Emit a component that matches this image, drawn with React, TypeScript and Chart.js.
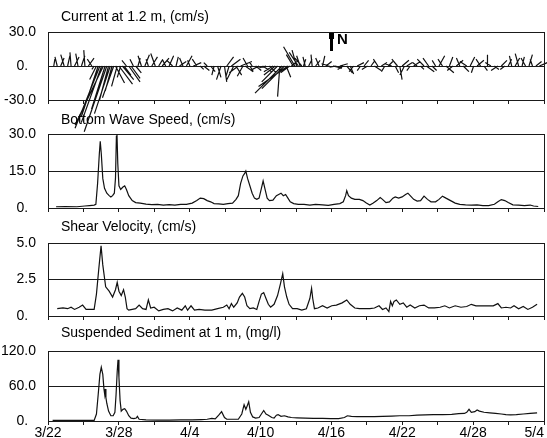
import React, { useEffect, useRef } from "react";
import { Chart, registerables } from "chart.js";

Chart.register(...registerables);

const FONT = '"Liberation Sans", Arial, Helvetica, sans-serif';

// ---------- X axis: days since 3/22 ----------
const X_DAYS = 43;
const X_MINOR_INTERVALS = 14;
const X_TICK_LABELS = ["3/22", "3/28", "4/4", "4/10", "4/16", "4/22", "4/28", "5/4"];

// ---------- Panel 1: current sticks (cm/s) ----------
const CURRENT_TITLE = "Current at 1.2 m, (cm/s)";
const CURRENT_Y_TICKS = [-30, 0, 30];
const CURRENT_Y_LABELS = ["-30.0", "0.", "30.0"];
const STICK_DAY = [
  0.5, 0.8, 1.1, 1.4, 1.7, 2.0, 2.3, 2.6, 2.9, 3.2, 3.5, 3.8,
  4.0, 4.2, 4.35, 4.5, 4.65, 4.8, 4.95, 5.1, 5.25, 5.4, 5.55, 5.7, 5.85, 6.0, 6.15, 6.3, 6.45, 6.6, 6.8, 7.0, 7.2, 7.4, 7.6,
  7.8, 8.1, 8.4, 8.7, 9.0, 9.3, 9.6, 9.9, 10.2, 10.5, 10.8, 11.1, 11.4, 11.7, 12.0, 12.3, 12.6, 12.9, 13.2,
  13.5, 13.8, 14.1, 14.4, 14.7, 15.0, 15.3, 15.5, 15.7, 15.9, 16.1, 16.3, 16.5, 16.7, 16.9, 17.1, 17.3, 17.5, 17.7,
  18.0, 18.3, 18.6, 18.9, 19.2, 19.5, 19.7, 19.9, 20.1, 20.3, 20.5, 20.65, 20.8, 20.95, 21.1,
  21.25, 21.4, 21.55, 21.7, 21.85, 22.0, 22.15,
  22.3, 22.6, 22.9, 23.2, 23.5, 23.8, 24.1, 24.4, 24.7, 25.0, 25.3, 25.6, 25.9, 26.2, 26.5, 26.8, 27.1, 27.4, 27.7, 28.0,
  28.3, 28.6, 28.9, 29.2, 29.5, 29.8, 30.1, 30.3, 30.5, 30.7, 30.9, 31.1, 31.4, 31.7, 32.0, 32.3, 32.6, 32.8, 33.0, 33.3,
  33.6, 33.9, 34.2, 34.5, 34.8, 35.1, 35.4, 35.7, 36.0, 36.3, 36.6, 36.9, 37.2, 37.5, 37.8, 38.1, 38.4, 38.7, 39.0, 39.3,
  39.6, 39.9, 40.2, 40.5, 40.8, 41.1, 41.4, 41.7, 42.0, 42.3, 42.6,
];
const STICK_U = [
  1, -2, 3, -3, 2, -1, 4, -2, 3, -1, 5, -4,
  -2, -6, -15, -22, -18, -25, -12, -20, -8, -14, -6, -10, 8, -5, 12, -3, 10, 6, -4, 10, 8, -3, 5,
  2, -3, 4, -2, 5, -4, 3, 6, -3, 4, -5, 2, 6, -3, 5, -2, 7, -4, 3,
  5, -3, 4, -2, 3, -4, 2, 6, -3, 8, -6, 5, -8, 10, -5, 7, -4, 3, -2,
  5, -6, 8, -7, 6, -8, -10, -14, -2, -24, -20, 4, -26, -8, 5,
  -6, -10, -4, -8, -3, -6, 2,
  -2, 3, -1, 4, -3, 2, 5, -7, 8, -6, 7, -5, 5, 3, -4, 6, -3, 4, -5, 3,
  6, -4, 5, -3, 4, -6, 3, -5, 2, 6, -4, 5, -3, 6, -4, 3, -6, 7, -5, 4,
  -3, 5, -4, 7, 3, -5, 6, -3, 5, -6, 4, -2, 6, -4, 3, 0, -5, 4, -6, 5,
  -4, 3, -2, 4, -3, 2, -4, 3, -2, 5, 7,
];
const STICK_V = [
  6, 8, 7, 10, 9, 12, 8, 11, 9, 14, 7, 6,
  -3, -12, -45, -55, -50, -52, -38, -58, -30, -42, -22, -28, -15, -18, -16, -10, -12, -8, 5, -14, -11, 6, -6,
  7, 9, 10, 6, 8, 11, 5, 7, 6, 9, 5, 8, 4, 7, 9, 5, 3, 6, -3,
  -4, 3, -5, -8, -10, -12, -14, 8, -10, 6, -12, -8, -6, 4, -9, -5, 7, -5, 3,
  -4, -3, -5, -2, -6, -5, -8, -14, -27, -24, -20, -10, -18, -6, 4,
  10, 17, 14, 12, 9, 7, 6,
  8, 6, 10, 5, 7, 9, 4, 2, -2, -1, 2, -3, -6, -7, -5, 3, -4, 5, -3, 4,
  -4, 6, 3, -5, 4, 2, -6, 6, -12, 5, -8, 3, -4, 4, 3, -3, 6, -5, 7, -4,
  5, 9, 6, -6, 8, -4, 5, 7, -5, 4, 8, -6, 5, 6, -4, 10, 3, -3, -4, 5,
  -3, 6, 9, 7, 11, 8, 7, 10, 6, 4, 3,
];
// days of x-offset per cm/s of east velocity, so sticks keep true direction
const STICK_DAYS_PER_CMS = 0.098;

// ---------- Panel 2: bottom wave speed (cm/s) ----------
const WAVE_TITLE = "Bottom Wave Speed, (cm/s)";
const WAVE_Y_TICKS = [0, 15, 30];
const WAVE_Y_LABELS = ["0.", "15.0", "30.0"];
const WAVE_DAY = [
  0.7, 1.5, 2.5, 3.2, 3.6, 4.0, 4.15, 4.3, 4.45, 4.53, 4.62, 4.75, 4.9, 5.1, 5.3, 5.45, 5.6, 5.75, 5.85, 5.93,
  5.98, 6.05, 6.15, 6.3, 6.5, 6.65, 6.8, 7.0, 7.3, 7.6, 8.0, 8.5, 9.0, 9.5, 10.0, 10.5, 11.0, 11.5, 12.0, 12.5,
  12.9, 13.2, 13.5, 13.8, 14.1, 14.4, 14.8, 15.2, 15.6, 16.0, 16.3, 16.5, 16.7, 16.9, 17.05, 17.15, 17.3, 17.5, 17.7, 17.9,
  18.1, 18.3, 18.5, 18.65, 18.8, 19.0, 19.2, 19.5, 19.8, 20.0, 20.2, 20.4, 20.6, 20.8, 21.0, 21.3, 21.7, 22.2, 22.7, 23.2,
  23.8, 24.3, 24.8, 25.3, 25.6, 25.8, 25.9, 26.05, 26.3, 26.6, 27.0, 27.3, 27.6, 27.9, 28.2, 28.5, 28.8, 29.0, 29.3, 29.6,
  29.9, 30.1, 30.4, 30.7, 31.0, 31.2, 31.4, 31.7, 32.0, 32.3, 32.6, 32.9, 33.2, 33.6, 33.9, 34.2, 34.5, 34.9, 35.3, 35.7,
  36.2, 36.7, 37.2, 37.7, 38.2, 38.7, 39.0, 39.3, 39.6, 39.9, 40.3, 40.8, 41.3, 41.8, 42.1, 42.5,
];
const WAVE_VAL = [
  0.5, 0.6, 0.5, 0.8, 1.0, 1.2, 1.5, 10, 22, 27, 22, 12, 8, 6, 5, 4.5, 5, 6, 12, 29,
  30, 18, 9, 7.5, 8.5, 9, 7.5, 5, 3, 2.2, 2, 1.6, 1.4, 1.5, 1.2, 1.4, 1.2, 1.5, 1.5, 2,
  3, 4, 3.8, 3, 2.5, 1.8, 1.7, 1.5, 1.8, 2, 3.5, 5, 10, 13, 14, 15, 12, 9, 6, 4,
  3.5, 4, 8, 11, 8, 4, 3, 3.2, 5, 5.5, 6, 5, 5.5, 4, 2.5, 1.8, 1.5, 1.5, 1.2, 1.5,
  1.3, 1.1, 1.5, 1.8, 2.5, 5, 7, 5, 4, 3.5, 3.5, 3, 2, 1.2, 2, 3, 4.2, 3.5, 2.2, 2.5,
  4, 4.5, 4, 4.5, 5.5, 6, 5, 3.5, 2.8, 3, 4.8, 3.5, 2.5, 2.5, 3.5, 4.8, 4, 3, 2, 1.5,
  1.3, 1.2, 1.3, 1.0, 1.0, 1.5, 2.5, 3.4, 3.0, 2.2, 1.3, 1.2, 1.0, 1.2, 0.8, 0.6,
];

// ---------- Panel 3: shear velocity (cm/s) ----------
const SHEAR_TITLE = "Shear Velocity, (cm/s)";
const SHEAR_Y_TICKS = [0, 2.5, 5];
const SHEAR_Y_LABELS = ["0.", "2.5", "5.0"];
const SHEAR_DAY = [
  0.8, 1.3, 1.7, 2.0, 2.3, 2.7, 3.0, 3.3, 3.7, 4.0, 4.2, 4.4, 4.6, 4.75, 5.0, 5.3, 5.6, 5.85, 6.0, 6.15,
  6.35, 6.55, 6.7, 6.85, 7.0, 7.3, 7.6, 7.9, 8.2, 8.5, 8.7, 8.9, 9.2, 9.6, 10.0, 10.4, 10.8, 11.2, 11.6, 11.9,
  12.1, 12.4, 12.7, 13.1, 13.6, 14.2, 14.7, 15.2, 15.5, 15.7, 15.9, 16.1, 16.4, 16.6, 16.85, 17.05, 17.25, 17.5, 17.8, 18.1,
  18.3, 18.5, 18.7, 18.9, 19.1, 19.3, 19.6, 19.9, 20.15, 20.35, 20.5, 20.7, 20.9, 21.2, 21.6, 22.0, 22.4, 22.7, 22.85, 22.95,
  23.1, 23.4, 23.8, 24.2, 24.6, 25.0, 25.5, 25.9, 26.2, 26.6, 27.0, 27.5, 27.9, 28.3, 28.7, 29.0, 29.3, 29.55, 29.7, 29.85,
  30.0, 30.2, 30.5, 30.8, 31.1, 31.4, 31.8, 32.2, 32.6, 33.0, 33.5, 34.0, 34.4, 34.8, 35.3, 35.8, 36.3, 36.7, 37.1, 37.6,
  38.1, 38.6, 39.0, 39.3, 39.7, 40.1, 40.4, 40.8, 41.2, 41.6, 42.0, 42.4,
];
const SHEAR_VAL = [
  0.5, 0.55, 0.5, 0.6, 0.45, 0.6, 0.75, 0.45, 0.45, 0.45, 1.5, 3.2, 4.8, 3.5, 2.0, 1.7, 1.3, 1.8, 2.3, 1.7,
  1.4, 1.8, 1.3, 0.5, 0.4, 0.45, 0.5, 0.75, 0.5, 0.45, 1.1, 0.55, 0.6, 0.35, 0.45, 0.5, 0.35, 0.55, 0.4, 0.7,
  0.4, 0.7, 0.4, 0.45, 0.4, 0.4, 0.5, 0.6, 0.75, 0.5, 0.85, 0.6, 0.9, 1.3, 1.55, 1.3, 0.7, 0.5, 0.55, 0.45,
  1.0, 1.5, 1.6, 1.2, 0.8, 0.6, 0.8, 1.4, 2.2, 2.9, 2.0, 1.3, 0.8, 0.5, 0.5, 0.4, 0.5, 1.2, 1.9, 1.2,
  0.5, 0.55, 0.7, 0.55, 0.7, 0.75, 0.9, 1.1, 0.8, 0.55, 0.5, 0.5, 0.5, 0.55, 0.7, 0.45, 0.55, 0.3, 1.0, 0.7,
  1.0, 1.1, 0.8, 0.9, 0.6, 0.75, 0.55, 0.7, 0.75, 0.55, 0.55, 0.6, 0.7, 0.55, 0.7, 0.6, 0.65, 0.8, 0.7, 0.7,
  0.7, 0.7, 0.85, 0.55, 0.6, 0.55, 0.7, 0.5, 0.65, 0.45, 0.6, 0.8,
];

// ---------- Panel 4: suspended sediment (mg/l) ----------
const SED_TITLE = "Suspended Sediment at 1 m, (mg/l)";
const SED_Y_TICKS = [0, 60, 120];
const SED_Y_LABELS = ["0.", "60.0", "120.0"];
const SED_DAY = [
  0.4, 1.5, 2.5, 3.5, 4.0, 4.2, 4.35, 4.5, 4.62, 4.75, 4.85, 4.92, 4.97, 5.02, 5.1, 5.25, 5.45, 5.65, 5.8, 5.9,
  6.0, 6.07, 6.15, 6.25, 6.35, 6.5, 6.65, 6.8, 7.0, 7.2, 7.45, 7.65, 7.75, 7.9, 8.5, 9.5, 10.5, 11.5, 12.5, 13.3,
  13.8, 14.2, 14.5, 14.8, 15.05, 15.3, 15.5, 16.0, 16.5, 16.8, 17.0, 17.15, 17.25, 17.4, 17.55, 17.75, 18.0, 18.3, 18.5, 18.7,
  18.9, 19.1, 19.4, 19.6, 19.8, 19.95, 20.2, 20.5, 20.8, 21.1, 21.6, 22.3, 23.0, 23.8, 24.5, 25.2, 25.7, 25.95, 26.3, 26.8,
  27.5, 28.3, 29.0, 29.8, 30.5, 31.3, 32.0, 32.7, 33.4, 34.2, 35.0, 35.6, 36.1, 36.3, 36.5, 36.7, 37.0, 37.2, 37.4, 37.8,
  38.3, 38.8, 39.3, 39.7, 40.1, 40.6, 41.2, 41.8, 42.4,
];
const SED_VAL = [
  1, 1, 1, 1, 1, 12, 45, 80, 92, 80, 55, 45, 55, 40, 30, 17, 9, 9, 15, 45,
  85, 105, 75, 35, 17, 20, 21, 17, 9, 5, 4, 5, 8, 3, 2, 1.5, 1.5, 2, 2, 2.5,
  3, 4.5, 3.5, 10, 16, 6, 3, 3, 3, 12, 28, 20, 25, 33, 15, 7, 5, 6, 12, 18,
  12, 10, 6, 5, 10, 11, 8, 9, 7, 6, 5.5, 5, 4.5, 4.5, 4, 4, 6, 9, 8, 7.5,
  7.5, 7.5, 8, 8.5, 9, 9, 10, 10.5, 11, 11, 11.5, 12.5, 13, 15, 20, 15, 16, 19, 17, 15,
  14, 13, 12, 11, 10.5, 11, 12, 13, 14,
];

// ---------- helpers ----------
function toPoints(days: number[], vals: number[]) {
  const n = Math.min(days.length, vals.length);
  const pts: { x: number; y: number }[] = [];
  for (let i = 0; i < n; i++) pts.push({ x: days[i], y: vals[i] });
  return pts;
}

function stickPoints() {
  const n = Math.min(STICK_DAY.length, STICK_U.length, STICK_V.length);
  const pts: { x: number; y: number | null }[] = [];
  for (let i = 0; i < n; i++) {
    const d = STICK_DAY[i];
    pts.push({ x: d, y: 0 });
    pts.push({ x: d + STICK_U[i] * STICK_DAYS_PER_CMS, y: STICK_V[i] });
    pts.push({ x: d, y: null });
  }
  return pts;
}

function xTicks() {
  // a leading blank duplicate so that "inner" alignment only affects the last label
  const values: number[] = [0];
  const labels: string[] = [""];
  for (let k = 0; k <= X_MINOR_INTERVALS; k++) {
    values.push((k * X_DAYS) / X_MINOR_INTERVALS);
    labels.push(k % 2 === 0 ? X_TICK_LABELS[k / 2] ?? "" : "");
  }
  return { values, labels };
}

const LINE_COLOR = "#111";
const AXIS_COLOR = "#1a1a1a";
const PLOT_LEFT = 48;
const PLOT_RIGHT = 544;
const WIDTH = 547;

type PanelProps = {
  canvasTop: number;
  canvasHeight: number;
  frameTop: number;
  frameBottom: number;
  yMin: number;
  yMax: number;
  yTicks: number[];
  yLabels: string[];
  datasets: any[];
  showXLabels: boolean;
};

const framePlugin = {
  id: "frameRight",
  afterDraw(chart: any) {
    const { ctx, chartArea } = chart;
    const x = Math.round(chartArea.right - 0.5) + 0.5;
    ctx.save();
    ctx.strokeStyle = AXIS_COLOR;
    ctx.lineWidth = 1;
    ctx.beginPath();
    ctx.moveTo(x, Math.round(chartArea.top));
    ctx.lineTo(x, Math.round(chartArea.bottom) + 1);
    ctx.stroke();
    ctx.restore();
  },
};

function Panel(p: PanelProps) {
  const ref = useRef<HTMLCanvasElement | null>(null);
  useEffect(() => {
    const canvas = ref.current;
    if (!canvas) return;
    const xt = xTicks();
    const xAxisHeight = p.canvasTop + p.canvasHeight - p.frameBottom;
    const chart = new Chart(canvas, {
      type: "line",
      data: { datasets: p.datasets },
      options: {
        animation: false,
        responsive: false,
        maintainAspectRatio: false,
        devicePixelRatio: 1,
        layout: {
          padding: { top: p.frameTop - p.canvasTop, left: 0, right: WIDTH - PLOT_RIGHT, bottom: 0 },
        },
        plugins: {
          legend: { display: false },
          tooltip: { enabled: false },
          title: { display: false },
        },
        elements: {
          point: { radius: 0, hoverRadius: 0 },
          line: { borderWidth: 1.2, tension: 0 },
        },
        scales: {
          x: {
            type: "linear",
            bounds: "data",
            min: 0,
            max: X_DAYS,
            afterBuildTicks: (s: any) => {
              s.ticks = xt.values.map((v) => ({ value: v }));
            },
            afterFit: (s: any) => {
              s.height = xAxisHeight;
              s.paddingLeft = 0;
              s.paddingRight = 0;
            },
            grid: {
              drawOnChartArea: false,
              drawTicks: true,
              tickLength: 4,
              color: AXIS_COLOR,
              lineWidth: 1,
            },
            border: { display: true, color: AXIS_COLOR, width: 1 },
            ticks: {
              display: p.showXLabels,
              autoSkip: false,
              maxRotation: 0,
              minRotation: 0,
              align: "inner",
              padding: 0,
              color: "#000",
              font: { family: FONT, size: 14 },
              callback: (_v: any, i: number) => xt.labels[i] ?? "",
            },
          },
          y: {
            type: "linear",
            bounds: "data",
            min: p.yMin,
            max: p.yMax,
            afterBuildTicks: (s: any) => {
              s.ticks = p.yTicks.map((v) => ({ value: v }));
            },
            afterFit: (s: any) => {
              s.width = PLOT_LEFT;
              s.paddingTop = 0;
              s.paddingBottom = 0;
            },
            grid: { drawTicks: false, color: AXIS_COLOR, lineWidth: 1 },
            border: { display: true, color: AXIS_COLOR, width: 1 },
            ticks: {
              autoSkip: false,
              padding: 12,
              color: "#000",
              font: { family: FONT, size: 14 },
              callback: (_v: any, i: number) => {
                const t = p.yLabels[i] ?? "";
                // decimal alignment: "0." gets a digit-wide figure space
                return t.endsWith(".") ? t + "\u2007" : t;
              },
            },
          },
        },
      } as any,
      plugins: [framePlugin],
    });
    return () => chart.destroy();
  }, []);
  return (
    <canvas
      ref={ref}
      width={WIDTH}
      height={p.canvasHeight}
      style={{ position: "absolute", left: 0, top: p.canvasTop, width: WIDTH, height: p.canvasHeight }}
    />
  );
}

const titleStyle = (top: number): React.CSSProperties => ({
  position: "absolute",
  left: 61,
  top,
  font: `14px ${FONT}`,
  lineHeight: "16px",
  color: "#000",
  whiteSpace: "nowrap",
});

export default function App() {
  const lineDs = (days: number[], vals: number[]) => [
    {
      data: toPoints(days, vals),
      borderColor: LINE_COLOR,
      borderWidth: 1.2,
      pointRadius: 0,
      fill: false,
    },
  ];
  const stickDs = [
    {
      data: stickPoints(),
      borderColor: LINE_COLOR,
      borderWidth: 1.2,
      pointRadius: 0,
      fill: false,
      spanGaps: false,
      clip: false,
    },
  ];
  return (
    <div
      style={{
        position: "fixed",
        left: 0,
        top: 0,
        width: WIDTH,
        height: 438,
        overflow: "hidden",
        background: "#fff",
      }}
    >
      <Panel
        canvasTop={16}
        canvasHeight={124}
        frameTop={32}
        frameBottom={100}
        yMin={-30}
        yMax={30}
        yTicks={CURRENT_Y_TICKS}
        yLabels={CURRENT_Y_LABELS}
        datasets={stickDs}
        showXLabels={false}
      />
      <Panel
        canvasTop={120}
        canvasHeight={96}
        frameTop={134}
        frameBottom={208}
        yMin={0}
        yMax={30}
        yTicks={WAVE_Y_TICKS}
        yLabels={WAVE_Y_LABELS}
        datasets={lineDs(WAVE_DAY, WAVE_VAL)}
        showXLabels={false}
      />
      <Panel
        canvasTop={229}
        canvasHeight={95}
        frameTop={243}
        frameBottom={316}
        yMin={0}
        yMax={5}
        yTicks={SHEAR_Y_TICKS}
        yLabels={SHEAR_Y_LABELS}
        datasets={lineDs(SHEAR_DAY, SHEAR_VAL)}
        showXLabels={false}
      />
      <Panel
        canvasTop={337}
        canvasHeight={108}
        frameTop={351}
        frameBottom={421}
        yMin={0}
        yMax={120}
        yTicks={SED_Y_TICKS}
        yLabels={SED_Y_LABELS}
        datasets={lineDs(SED_DAY, SED_VAL)}
        showXLabels={true}
      />
      <div style={titleStyle(8)}>{CURRENT_TITLE}</div>
      <div style={titleStyle(111)}>{WAVE_TITLE}</div>
      <div style={titleStyle(218)}>{SHEAR_TITLE}</div>
      <div style={titleStyle(324)}>{SED_TITLE}</div>
      {/* north arrow marker */}
      <div style={{ position: "absolute", left: 330, top: 33, width: 3, height: 18, background: "#000" }} />
      <div style={{ position: "absolute", left: 329, top: 33, width: 5, height: 6, background: "#000" }} />
      <div
        style={{
          position: "absolute",
          left: 337,
          top: 31,
          font: `bold 15px ${FONT}`,
          lineHeight: "16px",
          color: "#000",
        }}
      >
        N
      </div>
    </div>
  );
}
